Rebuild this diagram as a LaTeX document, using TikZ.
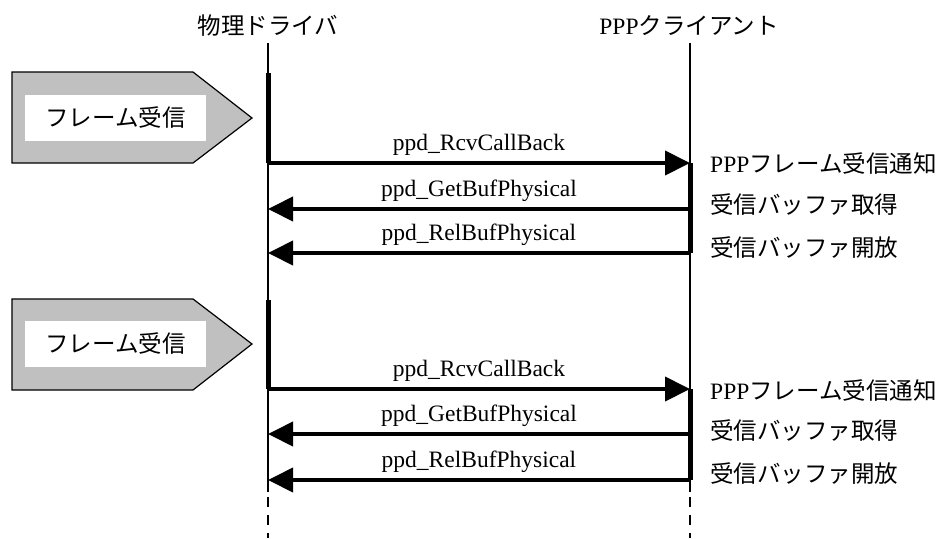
\documentclass[tikz,border=0pt]{standalone}
\usepackage{fontspec}
\setmainfont{Liberation Serif}
\newfontfamily\jp{Noto Sans CJK JP}
\usetikzlibrary{arrows.meta}
\definecolor{framegray}{RGB}{192,192,192}
\newcommand\bigsize{\fontsize{23.5}{28}\selectfont}
\tikzset{
  lifeline/.style={line width=1.6pt},
  actbar/.style={line width=5pt},
  msg/.style={line width=4pt,-{Triangle[length=25pt,width=24pt]}},
  msglabel/.style={anchor=base,yshift=13pt,inner sep=0pt},
  note/.style={anchor=base west,inner sep=0pt},
  head/.style={anchor=base,inner sep=0pt},
  frame/.style={draw,line width=1.2pt,fill=framegray},
  framelabel/.style={fill=white,minimum width=181pt,minimum height=46pt,inner sep=0pt,font=\bigsize\jp}
}
\begin{document}
\begin{tikzpicture}[x=1pt,y=-1pt,font=\bigsize]
\useasboundingbox (0,0) rectangle (941,538);
% heads of the two lifelines
\node[head] (drv) at (268,34) {\jp 物理ドライバ};
\node[head] (cli) at (689,34) {PPP{\jp クライアント}};
\coordinate (drvTop) at (268,43);  \coordinate (cliTop) at (690,43);
\coordinate (drvEnd) at (268,492); \coordinate (cliEnd) at (690,492);
\coordinate (drvDash) at (268,497); \coordinate (cliDash) at (690,497);
\coordinate (drvBot) at (268,538); \coordinate (cliBot) at (690,538);
\draw[lifeline] (drvTop) -- (drvEnd);
\draw[lifeline] (cliTop) -- (cliEnd);
\draw[lifeline,dash pattern=on 10pt off 8pt] (drvDash) -- (drvBot);
\draw[lifeline,dash pattern=on 10pt off 8pt] (cliDash) -- (cliBot);
% first frame
\draw[frame] (12,72) -- (193,72) -- (252,118) -- (193,163) -- (12,163) -- cycle;
\node[framelabel] (frA) at (115.5,118) {フレーム受信};
\coordinate (drvS1) at (268,73);  \coordinate (drvA1) at (268,163);
\coordinate (cliA1) at (690,163);
\coordinate (drvB1) at (268,209); \coordinate (cliB1) at (690,209);
\coordinate (drvC1) at (268,253); \coordinate (cliC1) at (690,253);
\draw[actbar] (drvS1) -- (drvA1);
\draw[actbar] (cliA1) -- (cliC1);
\draw[msg] (drvA1) -- (cliA1) node[midway,msglabel] {ppd\_RcvCallBack};
\draw[msg] (cliB1) -- (drvB1) node[midway,msglabel] {ppd\_GetBufPhysical};
\draw[msg] (cliC1) -- (drvC1) node[midway,msglabel] {ppd\_RelBufPhysical};
\node[note] (nA1) at (710,172.5) {PPP{\jp フレーム受信通知}};
\node[note] (nB1) at (710,213) {\jp 受信バッファ取得};
\node[note] (nC1) at (710,256) {\jp 受信バッファ開放};
% second frame
\draw[frame] (12,299) -- (193,299) -- (252,344) -- (193,390) -- (12,390) -- cycle;
\node[framelabel] (frB) at (115.5,344) {フレーム受信};
\coordinate (drvS2) at (268,300); \coordinate (drvA2) at (268,389);
\coordinate (cliA2) at (690,389);
\coordinate (drvB2) at (268,434); \coordinate (cliB2) at (690,434);
\coordinate (drvC2) at (268,480); \coordinate (cliC2) at (690,480);
\draw[actbar] (drvS2) -- (drvA2);
\draw[actbar] (cliA2) -- (cliC2);
\draw[msg] (drvA2) -- (cliA2) node[midway,msglabel] {ppd\_RcvCallBack};
\draw[msg] (cliB2) -- (drvB2) node[midway,msglabel] {ppd\_GetBufPhysical};
\draw[msg] (cliC2) -- (drvC2) node[midway,msglabel] {ppd\_RelBufPhysical};
\node[note] (nA2) at (710,399) {PPP{\jp フレーム受信通知}};
\node[note] (nB2) at (710,439) {\jp 受信バッファ取得};
\node[note] (nC2) at (710,482) {\jp 受信バッファ開放};
\end{tikzpicture}
\end{document}
